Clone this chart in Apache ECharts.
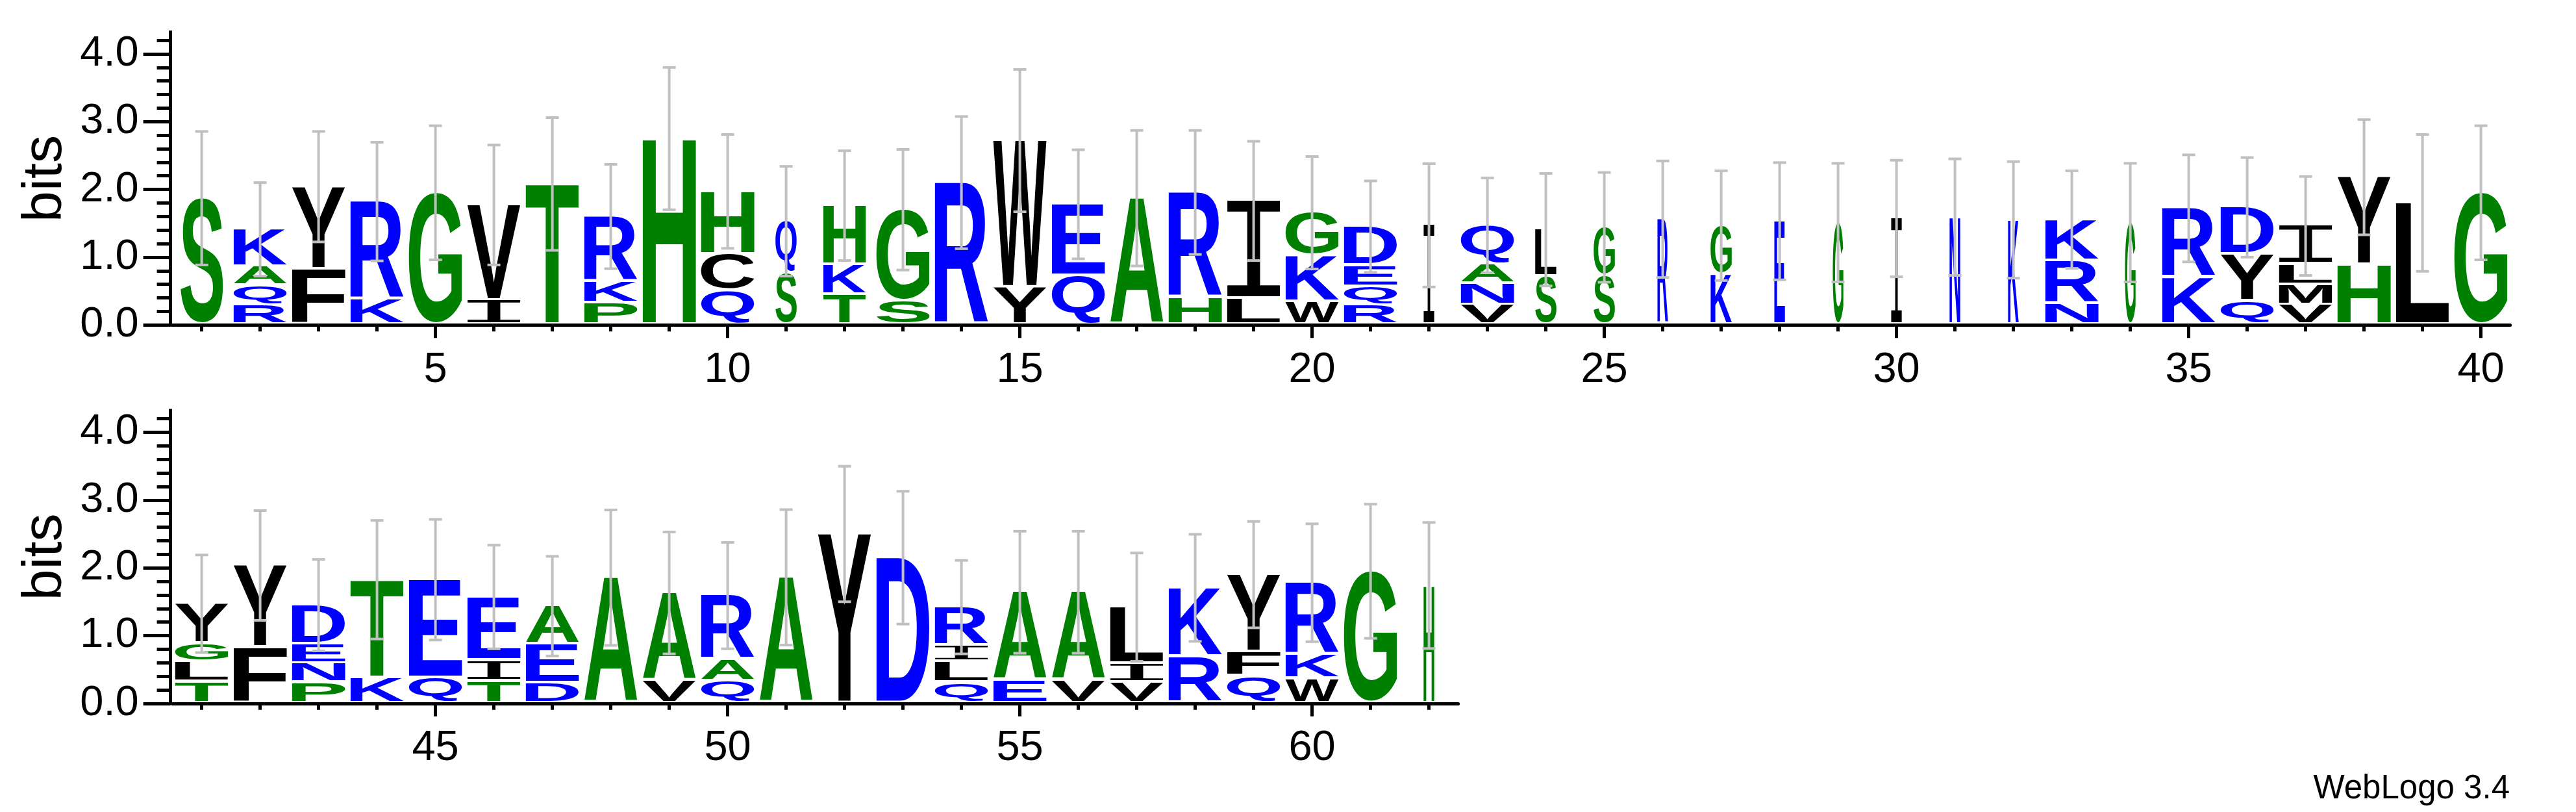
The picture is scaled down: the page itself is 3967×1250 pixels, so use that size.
<!DOCTYPE html>
<html>
<head>
<meta charset="utf-8">
<script src="https://cdn.jsdelivr.net/npm/echarts@6/dist/echarts.min.js"></script>
<style>
html,body{margin:0;padding:0;background:#ffffff;}
#chart{width:3967px;height:1250px;}
</style>
</head>
<body>
<div id="chart"></div>
<script>
// ---------------- DATA ----------------
const row1Positions = [1,2,3,4,5,6,7,8,9,10,11,12,13,14,15,16,17,18,19,20,21,22,23,24,25,26,27,28,29,30,31,32,33,34,35,36,37,38,39,40];
const row2Positions = [41,42,43,44,45,46,47,48,49,50,51,52,53,54,55,56,57,58,59,60,61,62];

// letters of each stack, bottom -> top
const stackLetters = [
  "S","RQAK","FY","KR","G","IV","T","PKR","H","QCH",
  "SQ","TKH","SG","R","YW","QE","A","HR","LI","WKG",
  "RQED","I","VNAQ","SL","SG","R","KG","E","G","I",
  "N","K","NRK","G","KR","QYD","VMLI","HY","L","G",
  "TLGY","FY","PNED","KT","QE","TIE","DEA","A","VA","QAR",
  "A","Y","D","QLIR","EA","VA","VIL","RK","QFY","WKR",
  "G","H"
];
// height (bits) of each letter, bottom -> top
const stackBits = [
  [1.83],[0.26,0.29,0.28,0.54],[0.80,1.20],[0.35,1.43],[1.91],[0.34,1.39],[2.04],[0.30,0.32,0.94],[2.71],[0.48,0.54,0.91],
  [0.74,0.75],[0.42,0.44,0.86],[0.33,1.33],[2.06],[0.53,2.15],[0.70,1.04],[1.83],[0.375,1.54],[0.36,1.43],[0.315,0.68,0.62],
  [0.27,0.27,0.31,0.56],[1.43],[0.27,0.315,0.28,0.565],[0.69,0.675],[0.70,0.70],[1.52],[0.72,0.705],[1.49],[1.47],[1.53],
  [1.55],[1.51],[0.295,0.63,0.59],[1.47],[0.67,1.01],[0.33,0.69,0.675],[0.27,0.30,0.30,0.55],[0.86,1.28],[1.76],[1.91],
  [0.29,0.30,0.27,0.57],[0.80,1.195],[0.28,0.28,0.285,0.565],[0.35,1.435],[0.35,1.435],[0.305,0.305,0.92],[0.27,0.58,0.545],[1.815],[0.31,1.28],[0.30,0.32,0.93],
  [1.82],[2.46],[2.11],[0.28,0.31,0.24,0.55],[0.31,1.29],[0.31,1.29],[0.285,0.28,0.815],[0.665,1.0],[0.375,0.36,1.125],[0.34,0.36,1.04],
  [1.91],[1.70]
];
// fraction of the full stack width (occupancy)
const stackWidth = [
  0.8,1,1,1,1,1,1,1,1,1,
  0.4,0.8,1,1,1,1,1,1,1,1,
  1,0.2,1,0.4,0.4,0.2,0.4,0.2,0.2,0.2,
  0.2,0.2,1,0.2,1,1,1,1,1,1,
  1,1,1,1,1,1,1,1,1,1,
  1,1,1,1,1,1,1,1,1,1,
  1,0.2
];
// half-length of the error bar (bits)
const errorBits = [
  0.985,0.69,0.815,0.875,0.99,0.885,0.98,0.77,1.05,0.84,
  0.81,0.81,0.89,0.975,1.05,0.805,1.0,0.915,0.88,0.83,
  0.675,0.91,0.70,0.83,0.81,0.86,0.81,0.865,0.875,0.86,
  0.86,0.86,0.72,0.875,0.79,0.735,0.73,0.85,1.01,0.99,
  0.72,0.81,0.675,0.875,0.89,0.765,0.735,1.0,0.90,0.785,
  1.0,1.0,0.98,0.69,0.90,0.90,0.80,0.79,0.785,0.87,
  0.99,0.93
];

const row1MinorTicks = [1,2,3,4,5,6,7,8,9,10,11,12,13,14,15,16,17,18,19,20,21,22,23,24,25,26,27,28,29,30,31,32,33,34,35,36,37,38,39,40];
const row1MajorTicks = [5,10,15,20,25,30,35,40];
const row2MinorTicks = [41,42,43,44,45,46,47,48,49,50,51,52,53,54,55,56,57,58,59,60,61,62];
const row2MajorTicks = [45,50,55,60];
const yMajorTicks = [0,1,2,3,4];
const yMinorTicks = [0.2,0.4,0.6,0.8,1.2,1.4,1.6,1.8,2.2,2.4,2.6,2.8,3.2,3.4,3.6,3.8,4.2];
const yMax = 4.3219;

// ---------------- STYLE ----------------
const BLUE = '#0000ff', GREEN = '#008000', BLACK = '#000000', GRAY = '#c0c0c0';
function colorOf(ch) {
  if ('RKDENQ'.indexOf(ch) >= 0) return BLUE;
  if ('SGHTAP'.indexOf(ch) >= 0) return GREEN;
  return BLACK;
}
const LETTER_FONT = 'bold 200px "Liberation Sans"';
const I_FONT = '200px "DejaVu Sans Mono"';
const LABEL_FONT = '"Liberation Sans"';
const BASE_LIFT = 4.2;   // stacks sit slightly above the axis line
const GAP = 4;           // pixel gap between stacked glyphs
const INK_FRAC = 82 / 90;

const mctx = document.createElement('canvas').getContext('2d');
const metricCache = {};
function metrics(ch) {
  if (metricCache[ch]) return metricCache[ch];
  const font = ch === 'I' ? I_FONT : LETTER_FONT;
  mctx.font = font;
  mctx.textAlign = 'left';
  mctx.textBaseline = 'middle';
  const m = mctx.measureText(ch);
  const r = {font: font, L: m.actualBoundingBoxLeft, R: m.actualBoundingBoxRight,
             A: m.actualBoundingBoxAscent, D: m.actualBoundingBoxDescent};
  metricCache[ch] = r;
  return r;
}
function glyph(ch, x0, y0, w, h) {
  const m = metrics(ch);
  const sx = w / (m.L + m.R);
  const sy = h / (m.A + m.D);
  return {
    type: 'text',
    x: x0 + m.L * sx,
    y: y0 + m.A * sy,
    scaleX: sx,
    scaleY: sy,
    silent: true,
    style: {text: ch, font: m.font, fill: colorOf(ch), align: 'left', verticalAlign: 'middle'}
  };
}

function renderStack(params, api) {
  const pos = api.value(0);
  const i = pos - 1;
  const letters = stackLetters[i];
  const bits = stackBits[i];
  const xc = api.coord([pos, 0])[0];
  const w = api.size([1, 0])[0] * INK_FRAC * stackWidth[i];
  const children = [];
  let cum = 0;
  for (let k = 0; k < letters.length; k++) {
    const yb = api.coord([pos, cum])[1] - BASE_LIFT - (k > 0 ? GAP / 2 : 0);
    cum += bits[k];
    const yt = api.coord([pos, cum])[1] - BASE_LIFT + (k < letters.length - 1 ? GAP / 2 : 0);
    children.push(glyph(letters[k], xc - w / 2, yt, w, yb - yt));
  }
  return {type: 'group', children: children};
}

function renderError(params, api) {
  const pos = api.value(0);
  const i = pos - 1;
  const total = stackBits[i].reduce((a, b) => a + b, 0);
  const xc = api.coord([pos, 0])[0];
  const yHi = api.coord([pos, total + errorBits[i]])[1] - BASE_LIFT;
  const yLo = api.coord([pos, total - errorBits[i]])[1] - BASE_LIFT;
  const st = {stroke: GRAY, lineWidth: 4};
  return {type: 'group', children: [
    {type: 'line', shape: {x1: xc, y1: yHi, x2: xc, y2: yLo}, style: st},
    {type: 'line', shape: {x1: xc - 10, y1: yHi, x2: xc + 10, y2: yHi}, style: st},
    {type: 'line', shape: {x1: xc - 10, y1: yLo, x2: xc + 10, y2: yLo}, style: st}
  ]};
}

function xAxes(gridIndex, min, max, minor, major) {
  return [
    {gridIndex: gridIndex, type: 'value', min: min, max: max, position: 'bottom',
     axisLine: {show: true, onZero: false, lineStyle: {color: BLACK, width: 5}},
     axisTick: {show: true, customValues: minor, length: 10, lineStyle: {color: BLACK, width: 5}},
     axisLabel: {show: false}, splitLine: {show: false}},
    {gridIndex: gridIndex, type: 'value', min: min, max: max, position: 'bottom',
     axisLine: {show: false, onZero: false},
     axisTick: {show: true, customValues: major, length: 20, lineStyle: {color: BLACK, width: 5}},
     axisLabel: {show: true, customValues: major, fontSize: 65, fontFamily: LABEL_FONT, color: BLACK, margin: 37},
     splitLine: {show: false}}
  ];
}
function yAxes(gridIndex) {
  return [
    {gridIndex: gridIndex, type: 'value', min: 0, max: yMax, position: 'left', offset: 3,
     axisLine: {show: true, lineStyle: {color: BLACK, width: 5, cap: 'square'}},
     axisTick: {show: true, customValues: yMajorTicks, length: 42, lineStyle: {color: BLACK, width: 5}},
     axisLabel: {show: true, customValues: yMajorTicks, formatter: v => Number(v).toFixed(1),
                 fontSize: 65, fontFamily: LABEL_FONT, color: BLACK, margin: 49},
     splitLine: {show: false}},
    {gridIndex: gridIndex, type: 'value', min: 0, max: yMax, position: 'left', offset: 3,
     axisLine: {show: false},
     axisTick: {show: true, customValues: yMinorTicks, length: 21, lineStyle: {color: BLACK, width: 5}},
     axisLabel: {show: false}, splitLine: {show: false}}
  ];
}

const chart = echarts.init(document.getElementById('chart'), null, {renderer: 'canvas', width: 3967, height: 1250});
chart.setOption({
  animation: false,
  backgroundColor: '#ffffff',
  grid: [
    {left: 265.6, top: 49.4, width: 3600, height: 450.8, containLabel: false},
    {left: 265.6, top: 632.0, width: 1980, height: 450.8, containLabel: false}
  ],
  xAxis: xAxes(0, 0.5, 40.5, row1MinorTicks, row1MajorTicks).concat(xAxes(1, 40.5, 62.5, row2MinorTicks, row2MajorTicks)),
  yAxis: yAxes(0).concat(yAxes(1)),
  series: [
    {type: 'custom', xAxisIndex: 0, yAxisIndex: 0, data: row1Positions.map(p => [p]), renderItem: renderStack, silent: true},
    {type: 'custom', xAxisIndex: 2, yAxisIndex: 2, data: row2Positions.map(p => [p]), renderItem: renderStack, silent: true},
    {type: 'custom', xAxisIndex: 0, yAxisIndex: 0, data: row1Positions.map(p => [p]), renderItem: renderError, silent: true},
    {type: 'custom', xAxisIndex: 2, yAxisIndex: 2, data: row2Positions.map(p => [p]), renderItem: renderError, silent: true}
  ],
  graphic: [
    {type: 'text', x: 70.5, y: 275, rotation: Math.PI / 2, silent: true,
     style: {text: 'bits', font: '86px "Liberation Sans"', fill: BLACK, align: 'center', verticalAlign: 'middle'}},
    {type: 'text', x: 70.5, y: 857.4, rotation: Math.PI / 2, silent: true,
     style: {text: 'bits', font: '86px "Liberation Sans"', fill: BLACK, align: 'center', verticalAlign: 'middle'}},
    {type: 'text', x: 3865, y: 1215.3, silent: true,
     style: {text: 'WebLogo 3.4', font: '51px "Liberation Sans"', fill: BLACK, align: 'right', verticalAlign: 'middle'}}
  ]
});
</script>
</body>
</html>
